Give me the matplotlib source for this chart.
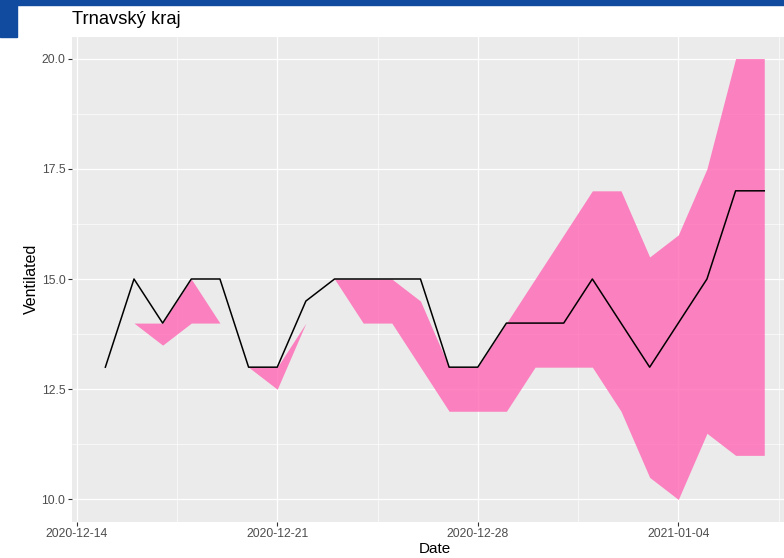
import numpy as np
import pandas as pd
import matplotlib
matplotlib.use("Agg")
import matplotlib.pyplot as plt
import matplotlib.dates as mdates
from matplotlib.patches import Rectangle

plt.rcParams['font.family'] = ['Liberation Sans', 'DejaVu Sans']

# data
dates = pd.to_datetime([
    "2020-12-15", "2020-12-16", "2020-12-17", "2020-12-18", "2020-12-19",
    "2020-12-20", "2020-12-21", "2020-12-22", "2020-12-23", "2020-12-24",
    "2020-12-25", "2020-12-26", "2020-12-27", "2020-12-28", "2020-12-29",
    "2020-12-30", "2020-12-31", "2021-01-01", "2021-01-02", "2021-01-03",
    "2021-01-04", "2021-01-05", "2021-01-06", "2021-01-07",
])
ventilated = [13, 15, 14, 15, 15, 13, 13, 14.5, 15, 15, 15, 15,
              13, 13, 14, 14, 14, 15, 14, 13, 14, 15, 17, 17]
lower = [np.nan, 14, 13.5, 14, 14, 13, 12.5, 14, 15, 14, 14, 13,
         12, 12, 12, 13, 13, 13, 12, 10.5, 10, 11.5, 11, 11]
upper = [np.nan, 14, 14, 15, 14, 13, 13, 14, 15, 15, 15, 14.5,
         13, 13, 14, 15, 16, 17, 17, 15.5, 16, 17.5, 20, 20]

x_ticks = ["2020-12-14", "2020-12-21", "2020-12-28", "2021-01-04"]
y_ticks = [10.0, 12.5, 15.0, 17.5, 20.0]

W, H = 784, 558
fig = plt.figure(figsize=(W / 100, H / 100), dpi=100)
fig.patch.set_facecolor("white")

# blue frame bits at the top left
fig.patches.append(Rectangle((0, 1 - 5 / H), 1, 5 / H, transform=fig.transFigure,
                             color="#114ba0", zorder=0))
fig.patches.append(Rectangle((0, 1 - 37 / H), 17 / W, 37 / H, transform=fig.transFigure,
                             color="#114ba0", zorder=0))

left, right = 72.4, 797.2
top, bottom = 36.5, 521.5
ax = fig.add_axes([left / W, (H - bottom) / H, (right - left) / W, (bottom - top) / H])
ax.set_facecolor("#ebebeb")
for s in ax.spines.values():
    s.set_visible(False)

ax.fill_between(dates, lower, upper, color="#ff66b4", alpha=0.8, linewidth=0, zorder=2)
ax.plot(dates, ventilated, color="black", linewidth=1.1, zorder=3)

x0 = mdates.date2num(pd.Timestamp("2020-12-15"))
x1 = mdates.date2num(pd.Timestamp("2021-01-07"))
pad = (x1 - x0) * 0.05
ax.set_xlim(x0 - pad, x1 + pad)
ax.set_ylim(9.5, 20.5)

ax.set_xticks(mdates.date2num(pd.to_datetime(x_ticks)))
ax.set_xticklabels(x_ticks)
ax.set_xticks(mdates.date2num(pd.to_datetime(x_ticks)) + 3.5, minor=True)
ax.set_yticks(y_ticks)
ax.set_yticklabels([f"{v:.1f}" for v in y_ticks])
ax.set_yticks([11.25, 13.75, 16.25, 18.75], minor=True)

ax.grid(which="major", color="white", linewidth=0.9, zorder=1)
ax.grid(which="minor", color="white", linewidth=0.45, zorder=1)
ax.set_axisbelow(True)
ax.tick_params(which="major", length=3, width=0.8, color="#333333",
               labelcolor="#4d4d4d", labelsize=8.8, pad=2)
ax.tick_params(which="minor", length=0)

ax.set_xlabel("Date", fontsize=11, labelpad=1)
ax.set_ylabel("Ventilated", fontsize=11.5, labelpad=2)
fig.text(left / W, 1 - 20 / H, "Trnavský kraj", fontsize=13.2, va="center", ha="left")

fig.savefig("out.png", dpi=100)
